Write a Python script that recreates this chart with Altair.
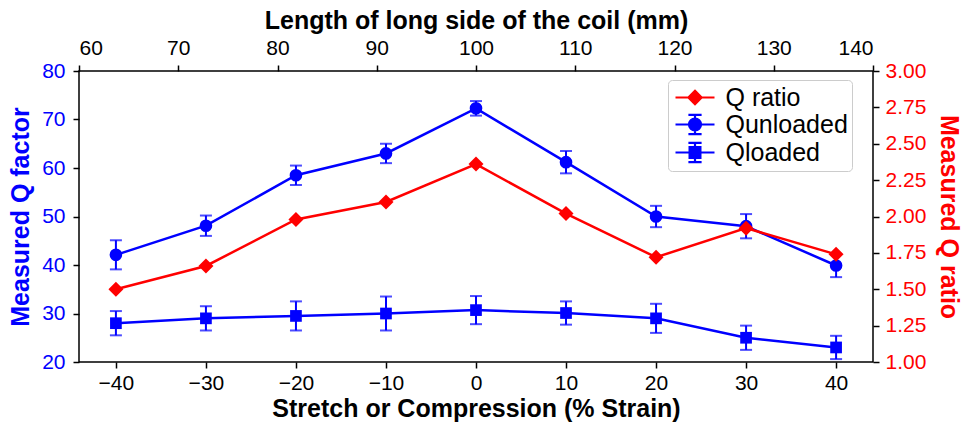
import altair as alt
import pandas as pd

# ---- data ----
strain = [-40, -30, -20, -10, 0, 10, 20, 30, 40]
q_unloaded = [42.1, 48.1, 58.5, 63.0, 72.3, 61.2, 50.0, 48.0, 39.9]
q_unloaded_err = [3.0, 2.1, 2.0, 2.0, 1.5, 2.3, 2.2, 2.5, 2.4]
q_loaded = [28.0, 29.0, 29.5, 30.0, 30.7, 30.1, 29.0, 25.0, 23.0]
q_loaded_err = [2.5, 2.5, 3.0, 3.5, 2.9, 2.4, 3.0, 2.5, 2.4]
q_ratio = [1.50, 1.66, 1.98, 2.10, 2.36, 2.02, 1.72, 1.92, 1.74]

strain_ticks = [-40, -30, -20, -10, 0, 10, 20, 30, 40]
coil_ticks = [60, 70, 80, 90, 100, 110, 120, 130, 140]
qfactor_ticks = [20, 30, 40, 50, 60, 70, 80]
ratio_ticks = [1.0, 1.25, 1.5, 1.75, 2.0, 2.25, 2.5, 2.75, 3.0]
legend_names = ["Q ratio", "Qunloaded", "Qloaded"]
legend_colors = ["#ff0000", "#0000ff", "#0000ff"]

BLUE = "#0000ff"
RED = "#ff0000"
FONT = "Liberation Sans"

df = pd.DataFrame({
    "strain": strain,
    "qu": q_unloaded,
    "qu_lo": [v - e for v, e in zip(q_unloaded, q_unloaded_err)],
    "qu_hi": [v + e for v, e in zip(q_unloaded, q_unloaded_err)],
    "ql": q_loaded,
    "ql_lo": [v - e for v, e in zip(q_loaded, q_loaded_err)],
    "ql_hi": [v + e for v, e in zip(q_loaded, q_loaded_err)],
    "ratio": q_ratio,
})

# ---- axes ----
x_axis = alt.Axis(orient="bottom", values=strain_ticks, format="d",
                  title="Stretch or Compression (% Strain)",
                  grid=False, domain=False, tickSize=6, tickWidth=1.5,
                  tickColor="black", labelColor="black", labelPadding=4,
                  titlePadding=3, titleColor="black")
top_axis = alt.Axis(orient="top", values=coil_ticks, format="d",
                    title="Length of long side of the coil (mm)",
                    grid=False, domain=False, tickSize=6, tickWidth=1.5,
                    tickColor="black", labelColor="black", labelPadding=7,
                    titlePadding=4, titleColor="black")
yl_axis = alt.Axis(orient="left", values=qfactor_ticks, format="d",
                   title="Measured Q factor", grid=False, domain=False,
                   tickSize=6, tickWidth=1.5, tickColor="black",
                   labelColor=BLUE, titleColor=BLUE, labelPadding=8,
                   titlePadding=8)
yr_axis = alt.Axis(orient="right", values=ratio_ticks, format=".2f",
                   title="Measured Q ratio", grid=False, domain=False,
                   tickSize=6, tickWidth=1.5, tickColor="black",
                   labelColor=RED, titleColor=RED, labelPadding=6,
                   titlePadding=10)

x_scale = alt.Scale(domain=[-44.1, 44.1], nice=False, zero=False)
yl_scale = alt.Scale(domain=[20, 80], nice=False, zero=False)
yr_scale = alt.Scale(domain=[1.0, 3.0], nice=False, zero=False)

X = alt.X("strain:Q", scale=x_scale, axis=x_axis)


def YL(field):
    return alt.Y(field, type="quantitative", scale=yl_scale, axis=yl_axis)


base = alt.Chart(df)
LW = 2.5

err_u = base.mark_errorbar(ticks={"size": 12}, thickness=2, color=BLUE).encode(
    x=X, y=YL("qu_lo"), y2="qu_hi")
line_u = base.mark_line(color=BLUE, strokeWidth=LW).encode(x=X, y=YL("qu"))
pts_u = base.mark_point(shape="circle", filled=True, size=160, color=BLUE,
                        opacity=1).encode(x=X, y=YL("qu"))

err_l = base.mark_errorbar(ticks={"size": 12}, thickness=2, color=BLUE).encode(
    x=X, y=YL("ql_lo"), y2="ql_hi")
line_l = base.mark_line(color=BLUE, strokeWidth=LW).encode(x=X, y=YL("ql"))
pts_l = base.mark_point(shape="square", filled=True, size=137, color=BLUE,
                        opacity=1).encode(x=X, y=YL("ql"))

qgroup = alt.layer(err_u, line_u, pts_u, err_l, line_l, pts_l)

YR = alt.Y("ratio:Q", scale=yr_scale, axis=yr_axis)
line_r = base.mark_line(color=RED, strokeWidth=LW).encode(x=X, y=YR)
pts_r = base.mark_point(shape="diamond", filled=True, size=225, color=RED,
                        opacity=1).encode(x=X, y=YR)
rgroup = alt.layer(line_r, pts_r)

main = alt.layer(qgroup, rgroup).resolve_scale(y="independent")

# legend glyphs: line + marker (+ error bar) as custom symbol paths
line_path = "M-1.625,0H1.625"
err_path = "M0,-0.8V0.8M-0.55,-0.8H0.55M-0.55,0.8H0.55"
legend_paths = [
    line_path + "M0,-0.55L0.55,0L0,0.55L-0.55,0Z",
    line_path + err_path + "M-0.5,0A0.5,0.5 0 1,0 0.5,0A0.5,0.5 0 1,0 -0.5,0Z",
    line_path + err_path + "M-0.45,-0.45H0.45V0.45H-0.45Z",
]

leg = alt.Legend(title=None, orient="none", legendX=589, legendY=9,
                 symbolSize=576, symbolStrokeWidth=2.2, symbolOffset=9.5,
                 labelFontSize=25, labelFont=FONT, labelColor="black",
                 labelOffset=17, labelLimit=400, padding=4, rowPadding=-4,
                 labelExpr="datum.label + '  '",
                 strokeColor="#cccccc", fillColor="white", cornerRadius=4)

leg_df = pd.DataFrame({"series": legend_names, "coil": [0, 0, 0]})
dummy = alt.Chart(leg_df).mark_point(filled=True, opacity=1, clip=True).encode(
    x=alt.X("coil:Q", scale=alt.Scale(domain=[60, 140], nice=False, zero=False),
            axis=top_axis),
    fill=alt.Fill("series:N", scale=alt.Scale(domain=legend_names, range=legend_colors), legend=leg),
    stroke=alt.Stroke("series:N", scale=alt.Scale(domain=legend_names, range=legend_colors), legend=leg),
    shape=alt.Shape("series:N", scale=alt.Scale(domain=legend_names, range=legend_paths), legend=leg),
)

chart = alt.layer(main, dummy).resolve_scale(x="independent").properties(
    width=794, height=291,
    autosize=alt.AutoSizeParams(type="none"),
    padding={"left": 79, "top": 71, "right": 101, "bottom": 71},
).configure_view(stroke="black", strokeWidth=1.5).configure_axis(
    labelFont=FONT, labelFontSize=21, titleFont=FONT, titleFontSize=25,
    titleFontWeight="bold"
).configure_tick(thickness=2)

chart.save("out.html", embed_options={"renderer": "svg", "actions": False})
